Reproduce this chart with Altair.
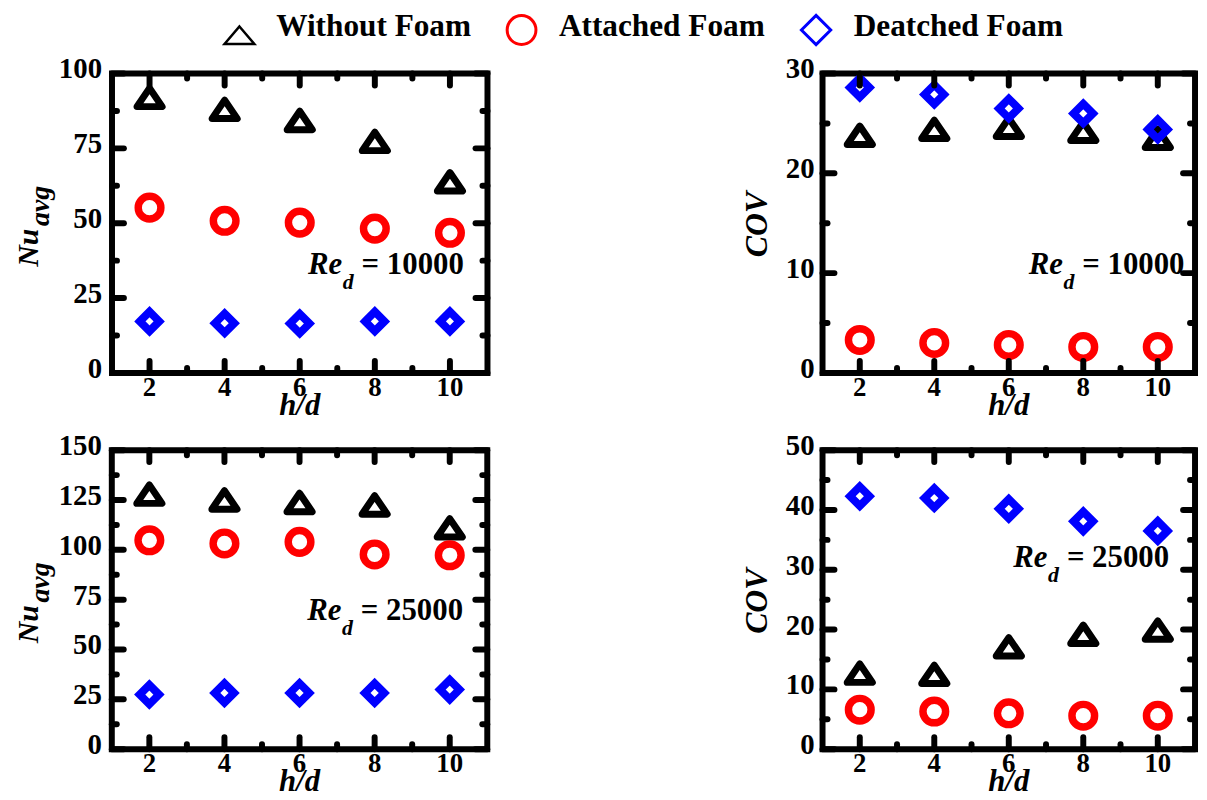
import altair as alt
import pandas as pd

# ---------------- data ----------------
hd = [2, 4, 6, 8, 10]
series_names = ["Without Foam", "Attached Foam", "Deatched Foam"]

nu_10000_without = [91.0, 87.0, 83.3, 76.3, 62.8]
nu_10000_attached = [55.2, 50.8, 50.2, 48.2, 46.8]
nu_10000_detached = [17.2, 16.6, 16.5, 17.2, 17.2]

cov_10000_without = [23.5, 24.1, 24.3, 23.9, 23.2]
cov_10000_attached = [3.3, 3.0, 2.8, 2.6, 2.6]
cov_10000_detached = [28.6, 27.9, 26.5, 26.0, 24.4]

nu_25000_without = [126.4, 123.5, 122.2, 121.0, 109.5]
nu_25000_attached = [104.8, 103.2, 104.0, 97.7, 97.3]
nu_25000_detached = [27.4, 28.2, 28.2, 28.2, 29.9]

cov_25000_without = [12.2, 12.0, 16.6, 18.7, 19.4]
cov_25000_attached = [6.6, 6.3, 6.0, 5.6, 5.6]
cov_25000_detached = [42.3, 42.0, 40.2, 38.1, 36.5]

x_domain = [1, 11]
x_major = [2, 4, 6, 8, 10]
x_minor = [3, 5, 7, 9]

nu10_max = 100
nu10_major = [0, 25, 50, 75, 100]
nu10_minor = [12.5, 37.5, 62.5, 87.5]
cov10_max = 30
cov10_major = [0, 10, 20, 30]
cov10_minor = [5, 15, 25]
nu25_max = 150
nu25_major = [0, 25, 50, 75, 100, 125, 150]
nu25_minor = [12.5, 37.5, 62.5, 87.5, 112.5, 137.5]
cov25_max = 50
cov25_major = [0, 10, 20, 30, 40, 50]
cov25_minor = [5, 15, 25, 35, 45]

re_values = ["10000", "25000"]
x_title = "h/d"
nu_main, nu_sub = "Nu", "avg"
cov_title = "COV"
re_main, re_sub = "Re", "d"

# ---------------- layout & styles ----------------
FONT = "Liberation Serif"
CANVAS_W, CANVAS_H = 1199, 792
# plot boxes (left, top, width, height) in canvas pixels
BOX_TL = (104.7, 63.3, 378, 301.4)
BOX_TR = (820.0, 63.3, 375, 301.4)
BOX_BL = (104.5, 442.5, 378, 301)
BOX_BR = (820.0, 442.5, 375, 301)

TRI_PATH = "M0,-0.98L1,0.49L-1,0.49Z"
TRI_LEG_PATH = "M0,-0.78L1,0.39L-1,0.39Z"
SERIES_STYLE = [
    dict(shape=TRI_PATH, color="black", size=640, strokeWidth=7, strokeJoin="round"),
    dict(shape="circle", color="#ff0000", size=520, strokeWidth=7.5),
    dict(shape="diamond", color="#0000ff", size=380, strokeWidth=8),
]
ONE = pd.DataFrame({"a": [0]})


def txt(s, x, y, size, weight="bold", style="normal", align="left", angle=0):
    return alt.Chart(ONE).mark_text(
        text=s, font=FONT, fontSize=size, fontWeight=weight, fontStyle=style,
        align=align, baseline="alphabetic", angle=angle, color="black"
    ).encode(x=alt.value(x), y=alt.value(y))


def sym(shape, color, size, sw, x, y):
    return alt.Chart(ONE).mark_point(
        shape=shape, filled=False, color=color, size=size, strokeWidth=sw, opacity=1
    ).encode(x=alt.value(x), y=alt.value(y))


def panel(box, series, ymax, ymajor, yminor, ylabpad, re_val, re_rel, ytitle):
    L0, T0, W, H = box
    R0, B0 = L0 + W, T0 + H
    xs = alt.Scale(domain=x_domain, range=[L0, R0], nice=False, zero=False)
    ys = alt.Scale(domain=[0, ymax], range=[B0, T0], nice=False, zero=False)

    def X(f):
        return alt.X(f, scale=xs, axis=None)

    def Y(f):
        return alt.Y(f, scale=ys, axis=None)

    layers = []
    # frame
    fdf = pd.DataFrame({"x0": [x_domain[0]], "x1": [x_domain[1]], "y0": [0], "y1": [ymax]})
    layers.append(alt.Chart(fdf).mark_rect(
        fill="white", fillOpacity=0, stroke="black", strokeWidth=6
    ).encode(x=X("x0:Q"), x2="x1:Q", y=Y("y0:Q"), y2="y1:Q"))
    # data
    for vals, st in zip(series, SERIES_STYLE):
        df = pd.DataFrame({"hd": hd, "val": vals})
        layers.append(alt.Chart(df).mark_point(filled=False, opacity=1, **st).encode(
            x=X("hd:Q"), y=Y("val:Q")))
    # ticks (inward, on all four sides)
    for vals, tl in ((x_major, 12), (x_minor, 5)):
        r = alt.Chart(pd.DataFrame({"v": vals})).mark_rule(
            color="black", strokeWidth=6, strokeCap="round")
        layers.append(r.encode(x=X("v:Q"), y=alt.value(T0), y2=alt.value(T0 + tl)))
        layers.append(r.encode(x=X("v:Q"), y=alt.value(B0), y2=alt.value(B0 - tl)))
    for vals, tl in ((ymajor, 12), (yminor, 5)):
        r = alt.Chart(pd.DataFrame({"v": vals})).mark_rule(
            color="black", strokeWidth=6, strokeCap="round")
        layers.append(r.encode(y=Y("v:Q"), x=alt.value(L0), x2=alt.value(L0 + tl)))
        layers.append(r.encode(y=Y("v:Q"), x=alt.value(R0), x2=alt.value(R0 - tl)))
    # tick labels
    xl = pd.DataFrame({"v": x_major, "lab": [str(v) for v in x_major]})
    layers.append(alt.Chart(xl).mark_text(
        font=FONT, fontSize=27, fontWeight="bold", color="black", align="center",
        baseline="top").encode(x=X("v:Q"), y=alt.value(B0 + 2), text="lab:N"))
    yl = pd.DataFrame({"v": ymajor, "lab": [str(v) for v in ymajor]})
    layers.append(alt.Chart(yl).mark_text(
        font=FONT, fontSize=29, fontWeight="bold", color="black", align="right",
        baseline="middle", dy=-4).encode(y=Y("v:Q"), x=alt.value(L0 - ylabpad), text="lab:N"))
    # x title
    layers.append(txt(x_title, L0 + W / 2, B0 + 42, 31, style="italic", align="center"))
    # y title
    if ytitle == "nu":
        layers.append(txt(nu_main, L0 - 74.7, T0 + 104.5 + 0.235 * H, 30, style="italic",
                          align="center", angle=270))
        layers.append(txt(nu_sub, L0 - 63.7, T0 + 62.5 + 0.235 * H, 28, style="italic",
                          align="center", angle=270))
    else:
        layers.append(txt(cov_title, L0 - 56, T0 + 152, 32, style="italic",
                          align="center", angle=270))
    # Re_d annotation
    rx, ry = L0 + re_rel[0], T0 + re_rel[1]
    layers.append(txt(re_main, rx, ry, 31, style="italic"))
    layers.append(txt(re_sub, rx + 35, ry + 15, 22, style="italic"))
    layers.append(txt("= " + re_val, rx + 54, ry, 31))
    return layers


layers = []
layers += panel(BOX_TL, [nu_10000_without, nu_10000_attached, nu_10000_detached],
                nu10_max, nu10_major, nu10_minor, 10, re_values[0], (197.3, 201.7), "nu")
layers += panel(BOX_TR, [cov_10000_without, cov_10000_attached, cov_10000_detached],
                cov10_max, cov10_major, cov10_minor, 8, re_values[0], (207.5, 201.7), "cov")
layers += panel(BOX_BL, [nu_25000_without, nu_25000_attached, nu_25000_detached],
                nu25_max, nu25_major, nu25_minor, 10, re_values[1], (196.7, 171.2), "nu")
layers += panel(BOX_BR, [cov_25000_without, cov_25000_attached, cov_25000_detached],
                cov25_max, cov25_major, cov25_minor, 8, re_values[1], (192.0, 117.8), "cov")

# legend (top)
layers += [
    sym(TRI_LEG_PATH, "black", 900, 2.5, 233.0, 27.7),
    txt(series_names[0], 270.0, 25.3, 31.5),
    sym("circle", "#ff0000", 841, 3, 517.0, 19.5),
    txt(series_names[1], 554.6, 25.3, 31.5),
    sym("diamond", "#0000ff", 870, 3, 813.5, 19.5),
    txt(series_names[2], 851.4, 25.3, 31.5),
]

chart = alt.layer(*layers).resolve_scale(
    x="independent", y="independent"
).properties(
    width=CANVAS_W, height=CANVAS_H, padding=0,
    autosize=alt.AutoSizeParams(type="none"),
).configure_view(stroke="transparent")

chart.save("out.html", embed_options={"renderer": "svg", "actions": False})
